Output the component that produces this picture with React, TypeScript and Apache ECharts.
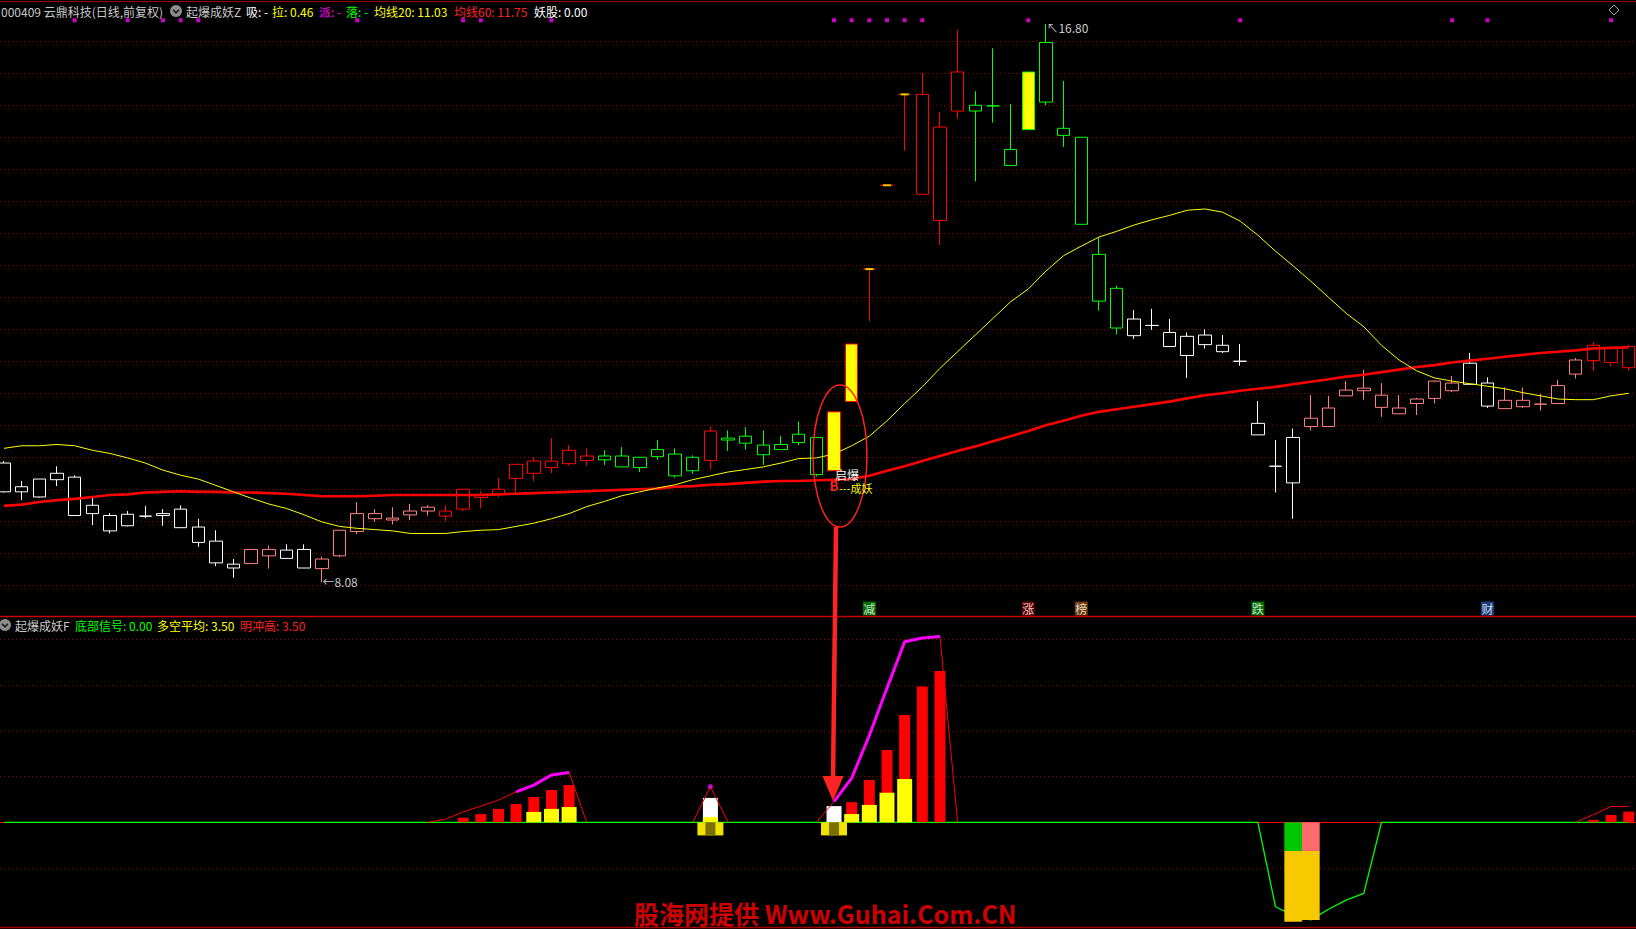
import React, { useEffect, useRef } from "react";
import * as echarts from "echarts";

const N = 93;
const categories: string[] = [];
for (let i = 0; i < N; i++) categories.push(String(i));

// ---------- main panel: candles (open, close, low, high) ----------
const candleOpen = [
  9.94, 9.57, 9.69, 9.78, 9.72, 9.28, 9.12, 9.14, 9.11, 9.15, 9.22, 8.94, 8.72, 8.36,
  8.37, 8.49, 8.58, 8.59,
  8.29, 8.49, 8.87, 9.07, 9.05, 9.13, 9.19,
  9.11, 9.22, 9.40, 9.45, 9.70, 9.78, 9.87, 9.93, 9.98,
  10.05, 10.05, 10.03, 10.15, 10.08, 10.03, 9.98,
  10.33, 10.36, 10.22, 10.23, 10.39, 10.34,
  9.82, 10.90, 12.97, 14.28, 15.70, 14.14, 13.73, 15.44, 15.53, 15.52, 14.84, 15.15,
  16.51, 15.17, 15.03, 13.20, 12.67,
  12.19, 12.09, 11.98, 11.92, 11.94, 11.78, 11.53, 10.56, 9.89, 10.34,
  10.51, 10.51, 10.99, 11.07, 10.81, 10.71, 10.87, 10.95, 11.07,
  11.50, 11.19, 10.79, 10.82, 10.86, 10.87, 11.33, 11.54, 11.51, 11.43,
];
const candleClose = [
  9.49, 9.49, 9.41, 9.68, 9.12, 9.15, 8.88, 8.96, 9.11, 9.12, 8.93, 8.70, 8.38, 8.30,
  8.59, 8.59, 8.45, 8.30,
  8.44, 8.89, 9.15, 9.15, 9.08, 9.19, 9.25,
  9.19, 9.53, 9.44, 9.53, 9.92, 9.97, 9.97, 10.14, 10.05,
  9.99, 9.88, 9.87, 10.04, 9.74, 9.82, 10.44,
  10.30, 10.25, 10.07, 10.15, 10.26, 9.76,
  10.74, 11.80, 12.97, 14.28, 15.70, 15.70, 15.19, 16.05, 15.44, 15.52, 14.59, 16.05,
  15.58, 15.06, 13.67, 12.47, 12.05,
  11.93, 12.09, 11.76, 11.62, 11.79, 11.68, 11.53, 10.38, 9.89, 9.63,
  10.64, 10.80, 11.08, 11.11, 11.00, 10.80, 10.94, 11.22, 11.19,
  11.17, 10.83, 10.92, 10.92, 10.86, 11.15, 11.55, 11.78, 11.73, 11.76,
];
const candleLow = [
  9.48, 9.36, 9.40, 9.58, 9.12, 8.97, 8.84, 8.95, 9.08, 8.96, 8.93, 8.63, 8.33, 8.15,
  8.37, 8.29, 8.45, 8.30,
  8.08, 8.47, 8.83, 9.02, 8.98, 9.05, 9.12,
  9.03, 9.19, 9.23, 9.41, 9.47, 9.66, 9.78, 9.90, 9.90,
  9.91, 9.88, 9.80, 9.99, 9.71, 9.77, 9.84,
  10.13, 10.15, 9.91, 10.15, 10.22, 9.73,
  9.82, 10.90, 12.16, 14.28, 14.82, 14.14, 13.35, 15.32, 14.34, 15.26, 14.59, 15.15,
  15.53, 14.88, 13.67, 12.32, 11.95,
  11.88, 12.02, 11.76, 11.27, 11.73, 11.66, 11.46, 10.38, 9.48, 9.07,
  10.45, 10.51, 10.99, 10.93, 10.66, 10.71, 10.69, 10.87, 11.05,
  11.17, 10.80, 10.79, 10.80, 10.76, 10.87, 11.26, 11.38, 11.45, 11.38,
];
const candleHigh = [
  9.97, 9.66, 9.69, 9.89, 9.75, 9.41, 9.16, 9.19, 9.27, 9.22, 9.28, 9.07, 8.89, 8.44,
  8.59, 8.65, 8.67, 8.67,
  8.48, 8.89, 9.33, 9.22, 9.25, 9.30, 9.28,
  9.28, 9.53, 9.50, 9.71, 9.92, 10.03, 10.33, 10.22, 10.17,
  10.14, 10.19, 10.03, 10.30, 10.17, 10.06, 10.51,
  10.45, 10.50, 10.45, 10.36, 10.59, 10.34,
  10.74, 11.80, 12.97, 14.28, 15.70, 16.03, 15.42, 16.71, 15.75, 16.42, 15.55, 16.05,
  16.80, 15.91, 15.03, 13.47, 12.71,
  12.33, 12.35, 12.19, 11.98, 12.03, 11.94, 11.80, 10.91, 10.30, 10.48,
  11.00, 10.99, 11.22, 11.40, 11.19, 11.00, 10.96, 11.23, 11.30,
  11.66, 11.28, 11.12, 11.12, 11.02, 11.24, 11.58, 11.83, 11.77, 11.79,
];
// W white, P pink, R red, G green, Y yellow(red edge), Q yellow(green edge), L limit-up line
const candleColor = [
  "W", "W", "W", "W", "W", "W", "W", "W", "W", "W", "W", "W", "W", "W",
  "P", "P", "W", "W",
  "P", "P", "P", "P", "P", "P", "P",
  "R", "R", "R", "R", "R", "R", "R", "R", "R",
  "G", "G", "G", "G", "G", "G", "R",
  "G", "G", "G", "G", "G", "G",
  "Y", "Y", "L", "L", "L", "R", "R", "R", "G", "G", "G", "Q",
  "G", "G", "G", "G", "G",
  "W", "W", "W", "W", "W", "W", "W", "W", "W", "W",
  "P", "P", "P", "P", "P", "P", "P", "P", "P",
  "W", "W", "P", "P", "P", "P", "P", "R", "R", "R",
];

const ma20 = [
  10.17, 10.21, 10.21, 10.23, 10.21, 10.14, 10.09, 10.02, 9.94, 9.83, 9.75, 9.69, 9.59, 9.49,
  9.39, 9.30, 9.23, 9.13, 9.02, 8.95, 8.92, 8.90, 8.88, 8.84, 8.84, 8.84, 8.87, 8.89, 8.90,
  8.95, 9.00, 9.07, 9.15, 9.26, 9.34, 9.43, 9.49, 9.55, 9.60, 9.68, 9.74, 9.80, 9.84, 9.88,
  9.94, 10.01, 10.02, 10.08, 10.21, 10.36, 10.60, 10.87, 11.13, 11.42, 11.68, 11.94, 12.20,
  12.46, 12.66, 12.94, 13.18, 13.33, 13.47, 13.56, 13.66, 13.74, 13.81, 13.89, 13.91, 13.86,
  13.72, 13.50, 13.25, 13.02, 12.78, 12.53, 12.28, 12.07, 11.78, 11.55, 11.38, 11.27, 11.22,
  11.18, 11.14, 11.10, 11.04, 10.99, 10.94, 10.93, 10.93, 10.99, 11.03,
];
const ma60 = [
  9.27, 9.29, 9.33, 9.36, 9.38, 9.41, 9.44, 9.45, 9.48, 9.49, 9.50, 9.49, 9.49, 9.48, 9.48,
  9.47, 9.46, 9.44, 9.42, 9.42, 9.42, 9.43, 9.44, 9.44, 9.44, 9.44, 9.44, 9.44, 9.45, 9.46,
  9.47, 9.48, 9.49, 9.50, 9.51, 9.52, 9.53, 9.54, 9.57, 9.58, 9.60, 9.61, 9.63, 9.65, 9.66,
  9.66, 9.67, 9.68, 9.69, 9.74, 9.82, 9.89, 9.97, 10.05, 10.13, 10.20, 10.28, 10.36, 10.44,
  10.53, 10.60, 10.68, 10.74, 10.78, 10.82, 10.86, 10.90, 10.95, 11.00, 11.03, 11.07, 11.10,
  11.13, 11.17, 11.21, 11.25, 11.29, 11.32, 11.36, 11.40, 11.44, 11.47, 11.51, 11.54, 11.57,
  11.60, 11.63, 11.66, 11.68, 11.70, 11.73, 11.74, 11.75,
];

// magenta marks along the top of the main panel
const topDotIdx = [4, 7, 9, 10, 11, 20, 26, 27, 31, 47, 48, 49, 50, 51, 52, 58, 70, 82, 84, 91];
// boxed signal characters above the lower panel
const signalIdx = [49, 58, 61, 71, 84];
const signalText = ["减", "涨", "榜", "跌", "财"];
const signalBg = ["#008A00", "#7A0000", "#8C4A0C", "#008A00", "#1E4E9E"];

// ---------- lower panel (起爆成妖F) ----------
const redBarPairs: [number, number][] = [
  [26, 1.5], [27, 2.7], [28, 4.4], [29, 6.0], [30, 8.3], [31, 10.6], [32, 12.2],
  [48, 6.6], [49, 13.9], [50, 23.7], [51, 35.2], [52, 44.5], [53, 49.6],
  [90, 0.8], [91, 2.4], [92, 3.5],
];
const yellowBarPairs: [number, number][] = [
  [30, 3.4], [31, 4.4], [32, 5.0], [40, 1.7], [48, 2.7], [49, 5.7], [50, 9.7], [51, 14.2],
];
const whiteBarPairs: [number, number][] = [[40, 8.0], [47, 5.3]];
const baseSignalPairs: [number, number][] = [[40, -4.3], [47, -4.3]];
const vTopPairs: [number, number][] = [[73, -9.4], [74, -9.4]];
const vTopColors = ["#00C800", "#FF6B6B"];
const vBottomPairs: [number, number][] = [[73, -23.2], [74, -22.6]];
const mingLinePairs: [number, number][] = [
  [24, 0], [25, 1.0], [26, 3.4], [27, 5.3], [28, 7.3], [29, 10.0], [30, 12.2], [31, 15.5], [32, 16.3], [33, 0],
  [39, 0], [40, 11.7], [41, 0],
  [46, 0], [47, 6.8], [48, 14.5], [49, 28.5], [50, 44.0], [51, 59.2], [52, 60.4], [53, 60.9], [54, 0],
  [89, 0], [90, 2.5], [91, 5.2], [92, 5.2],
];
const magentaRanges: [number, number][] = [[29, 32], [47, 53]];
const magentaDotPairs: [number, number][] = [[40, 11.7]];
const greenBase = 0;
const greenDipPairs: [number, number][] = [
  [71, 0], [72, -27.7], [73, -30.5], [74, -32.0], [75, -28.5], [76, -25.5], [77, -23.3], [78, 0],
];

const FONT = "'Noto Sans CJK SC', 'Noto Sans', sans-serif";

function fromPairs(pairs: [number, number][], base: number | null = null) {
  const a: (number | null)[] = new Array(N).fill(base);
  pairs.forEach(([i, v]) => (a[i] = v));
  return a;
}

function buildOption(): any {
  const colorMap: Record<string, { line: string; fill: string }> = {
    W: { line: "#FFFFFF", fill: "#000000" },
    P: { line: "#FF8080", fill: "#000000" },
    R: { line: "#FF0000", fill: "#000000" },
    G: { line: "#00FF00", fill: "#000000" },
    Y: { line: "#FF0000", fill: "#FFFF00" },
    Q: { line: "#00FF00", fill: "#FFFF00" },
    L: { line: "#FF0000", fill: "#FFFF00" },
  };
  const candleData = candleOpen.map((o, i) => {
    const c = colorMap[candleColor[i]];
    return {
      value: [o, candleClose[i], candleLow[i], candleHigh[i]],
      itemStyle: {
        color: c.fill, color0: c.fill, borderColor: c.line, borderColor0: c.line,
        borderColorDoji: c.line, borderWidth: 1,
      },
    };
  });
  let minIdx = 0, maxIdx = 0;
  candleLow.forEach((v, i) => { if (v < candleLow[minIdx]) minIdx = i; });
  candleHigh.forEach((v, i) => { if (v > candleHigh[maxIdx]) maxIdx = i; });
  const limitDash = candleColor
    .map((c, i) => (c === "L" ? [i, candleClose[i]] : null))
    .filter((d) => d !== null);

  const mingFull = fromPairs(mingLinePairs);
  const magentaFull: (number | null)[] = new Array(N).fill(null);
  magentaRanges.forEach(([a, b]) => { for (let i = a; i <= b; i++) magentaFull[i] = mingFull[i]; });
  const greenFull = fromPairs(greenDipPairs, greenBase);

  const TOP_DOT_PRICE = 16.858;
  const SIGNAL_PRICE = 7.667;

  const GL = -4.83, GW = 1642.38;
  const hiddenCat = (gridIndex: number) => ({
    type: "category", gridIndex, data: categories, show: false,
  });

  const txt = (x: number, y: number, text: string, fill: string, size = 12, weight = "normal") => ({
    type: "text", x, y, z: 100,
    style: {
      text, fill, fontSize: size, fontFamily: FONT, fontWeight: weight,
      align: "left", verticalAlign: "middle", textAlign: "left", textVerticalAlign: "middle",
    },
  });
  const icon = (cx: number, cy: number) => [
    { type: "circle", z: 100, shape: { cx, cy, r: 6 }, style: { fill: "#8C8C8C" } },
    {
      type: "polyline", z: 101,
      shape: { points: [[cx - 3, cy - 1.2], [cx, cy + 1.8], [cx + 3, cy - 1.2]] },
      style: { stroke: "#1A1A1A", lineWidth: 1.6, fill: null },
    },
  ];
  const hline = (y: number, color: string, w: number) => ({
    type: "line", z: 90, shape: { x1: 0, y1: y, x2: 1636, y2: y }, style: { stroke: color, lineWidth: w },
  });

  const last = N - 1;
  const graphic: any[] = [
    hline(1.5, "#A00000", 1),
    hline(616.5, "#C80000", 1.5),
    hline(927.5, "#A00000", 1.5),
    txt(1, 11, "000409 云鼎科技(日线,前复权)", "#C8C8C8"),
    ...icon(176, 11),
    txt(186, 11, "起爆成妖Z", "#C8C8C8"),
    txt(246, 11, "吸: -", "#FFFFFF"),
    txt(272, 11, "拉: 0.46", "#FFFF00"),
    txt(319, 11, "派: -", "#FF00FF"),
    txt(346, 11, "落: -", "#00FF00"),
    txt(374, 11, "均线20: " + ma20[last].toFixed(2), "#FFFF00"),
    txt(454, 11, "均线60: " + ma60[last].toFixed(2), "#FF2020"),
    txt(534, 11, "妖股: 0.00", "#FFFFFF"),
    {
      type: "polygon", z: 100,
      shape: { points: [[1614, 5], [1619, 10], [1614, 15], [1609, 10]] },
      style: { fill: null, stroke: "#A0A0A0", lineWidth: 1 },
    },
    ...icon(5, 625),
    txt(15, 625, "起爆成妖F", "#C8C8C8"),
    txt(75, 625, "底部信号: 0.00", "#00FF00"),
    txt(157, 625, "多空平均: " + redBarPairs[redBarPairs.length - 1][1].toFixed(2), "#FFFF00"),
    txt(240, 625, "明冲高: " + redBarPairs[redBarPairs.length - 1][1].toFixed(2), "#FF2020"),
    // annotation around the breakout candle
    {
      type: "ellipse", z: 95, shape: { cx: 840, cy: 456, rx: 27, ry: 71 },
      style: { fill: null, stroke: "#FF2020", lineWidth: 1.5 },
    },
    {
      type: "line", z: 95, shape: { x1: 836, y1: 527, x2: 833, y2: 782 },
      style: { stroke: "#FF2424", lineWidth: 4.5 },
    },
    {
      type: "polygon", z: 95, shape: { points: [[822.5, 776], [843.5, 776], [833, 801]] },
      style: { fill: "#FF2424" },
    },
    txt(835, 474, "启爆", "#FFFFFF", 12),
    txt(829.5, 485, "B", "#FF2020", 13, "bold"),
    txt(839, 488, "---成妖", "#FFFF00", 11),
    txt(634, 912.5, "股海网提供 Www.Guhai.Com.CN", "#D00000", 25, "bold"),
  ];

  const dotted = { color: "#990000", type: [1, 3], width: 1 };

  return {
    animation: false,
    backgroundColor: "#000000",
    graphic,
    grid: [
      { left: GL, top: 0, width: GW, height: 616, outerBoundsMode: "none" },
      { left: GL, top: 616, width: GW, height: 311.3, outerBoundsMode: "none" },
      { left: 0, top: 41.3, width: 1636, height: 544, outerBoundsMode: "none" },
      { left: 0, top: 639.3, width: 1636, height: 228.75, outerBoundsMode: "none" },
    ],
    xAxis: [
      hiddenCat(0),
      {
        type: "category", gridIndex: 1, data: categories, show: true,
        axisLine: { show: true, onZero: true, lineStyle: { color: "#FF0000", width: 1 } },
        axisTick: { show: false }, axisLabel: { show: false }, splitLine: { show: false },
      },
      hiddenCat(1),
      hiddenCat(1),
      hiddenCat(1),
      hiddenCat(1),
      { type: "value", gridIndex: 2, show: false, min: 0, max: 1 },
      { type: "value", gridIndex: 3, show: false, min: 0, max: 1 },
    ],
    yAxis: [
      { type: "value", gridIndex: 0, min: 7.55, max: 17.175, show: false },
      { type: "value", gridIndex: 1, min: -34.426, max: 67.639, show: false },
      {
        type: "value", gridIndex: 2, min: 0, max: 17, interval: 1,
        axisLine: { show: false }, axisTick: { show: false }, axisLabel: { show: false },
        splitLine: { show: true, lineStyle: dotted },
      },
      {
        type: "value", gridIndex: 3, min: 0, max: 5, interval: 1,
        axisLine: { show: false }, axisTick: { show: false }, axisLabel: { show: false },
        splitLine: { show: true, lineStyle: dotted },
      },
    ],
    series: [
      {
        type: "candlestick", name: "K", xAxisIndex: 0, yAxisIndex: 0, barWidth: 13, z: 2,
        data: candleData,
        markPoint: {
          symbol: "circle", symbolSize: 1, itemStyle: { color: "rgba(0,0,0,0)" },
          label: {
            show: true, position: "right", distance: 0, color: "#C8C8C8",
            fontSize: 12, fontFamily: FONT,
          },
          data: [
            { coord: [minIdx, candleLow[minIdx]], label: { formatter: "←" + candleLow[minIdx].toFixed(2), offset: [0, -1] } },
            { coord: [maxIdx, candleHigh[maxIdx]], label: { formatter: "↖" + candleHigh[maxIdx].toFixed(2), offset: [0, 3] } },
          ],
        },
      },
      {
        type: "scatter", xAxisIndex: 0, yAxisIndex: 0, z: 4, symbol: "rect", symbolSize: [8, 2],
        itemStyle: { color: "#FFFF00" }, data: limitDash,
      },
      {
        type: "line", name: "MA60", xAxisIndex: 0, yAxisIndex: 0, data: ma60, symbol: "none", z: 3,
        lineStyle: { color: "#FF0000", width: 2.6 },
      },
      {
        type: "line", name: "MA20", xAxisIndex: 0, yAxisIndex: 0, data: ma20, symbol: "none", z: 3,
        lineStyle: { color: "#FFFF00", width: 1 },
      },
      {
        type: "scatter", xAxisIndex: 0, yAxisIndex: 0, z: 4, symbol: "rect", symbolSize: 4,
        itemStyle: { color: "#FF00FF" }, data: topDotIdx.map((i) => [i, TOP_DOT_PRICE]),
      },
      {
        type: "scatter", xAxisIndex: 0, yAxisIndex: 0, z: 4, symbol: "rect", symbolSize: [13, 14],
        data: signalIdx.map((i, k) => ({ value: [i, SIGNAL_PRICE], itemStyle: { color: signalBg[k] } })),
        label: {
          show: true, position: "inside", color: "#FFFFFF", fontSize: 12, fontFamily: FONT,
          formatter: (p: any) => signalText[p.dataIndex],
        },
      },
      // lower panel
      {
        type: "line", xAxisIndex: 1, yAxisIndex: 1, data: greenFull, symbol: "none", z: 2,
        lineStyle: { color: "#00FF00", width: 1.3 },
      },
      {
        type: "bar", xAxisIndex: 1, yAxisIndex: 1, barWidth: 11, z: 3,
        itemStyle: { color: "#FF0000" }, data: fromPairs(redBarPairs),
      },
      {
        type: "bar", xAxisIndex: 2, yAxisIndex: 1, barWidth: 15, barGap: "-100%", z: 3,
        itemStyle: { color: "#FFFFFF" }, data: fromPairs(whiteBarPairs),
      },
      {
        type: "bar", xAxisIndex: 2, yAxisIndex: 1, barWidth: 15, barGap: "-100%", z: 3,
        itemStyle: { color: "#FFFF00" }, data: fromPairs(yellowBarPairs),
      },
      {
        type: "bar", xAxisIndex: 3, yAxisIndex: 1, barWidth: 26, z: 3,
        itemStyle: { color: "#F2E200" }, data: fromPairs(baseSignalPairs),
      },
      {
        type: "bar", xAxisIndex: 4, yAxisIndex: 1, barWidth: 10, z: 4,
        itemStyle: { color: "#7A7000" }, data: fromPairs(baseSignalPairs),
      },
      {
        type: "bar", xAxisIndex: 5, yAxisIndex: 1, barWidth: 17.7, stack: "v", z: 3,
        data: (() => {
          const a: any[] = new Array(N).fill(null);
          vTopPairs.forEach(([i, v], k) => (a[i] = { value: v, itemStyle: { color: vTopColors[k] } }));
          return a;
        })(),
      },
      {
        type: "bar", xAxisIndex: 5, yAxisIndex: 1, barWidth: 17.7, stack: "v", z: 3,
        itemStyle: { color: "#F8C800" }, data: fromPairs(vBottomPairs),
      },
      {
        type: "line", xAxisIndex: 1, yAxisIndex: 1, data: mingFull, symbol: "none", z: 5,
        lineStyle: { color: "#FF0000", width: 1 },
      },
      {
        type: "line", xAxisIndex: 1, yAxisIndex: 1, data: magentaFull, symbol: "none", z: 6,
        lineStyle: { color: "#FF00FF", width: 3 },
      },
      {
        type: "scatter", xAxisIndex: 1, yAxisIndex: 1, z: 7, symbol: "circle", symbolSize: 5,
        itemStyle: { color: "#FF00FF" }, data: magentaDotPairs,
      },
    ],
  };
}

export default function App() {
  const ref = useRef<HTMLDivElement>(null);
  useEffect(() => {
    if (!ref.current) return;
    const chart = echarts.init(ref.current, undefined, { renderer: "svg" });
    chart.setOption(buildOption());
    return () => chart.dispose();
  }, []);
  return (
    <div
      ref={ref}
      style={{ position: "fixed", left: 0, top: 0, width: 1636, height: 929, background: "#000" }}
    />
  );
}
